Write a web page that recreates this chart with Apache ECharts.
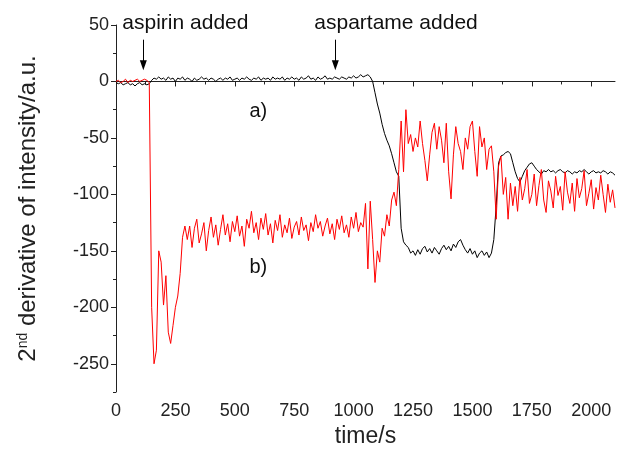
<!DOCTYPE html>
<html>
<head>
<meta charset="utf-8">
<script src="https://cdn.jsdelivr.net/npm/echarts@6/dist/echarts.min.js"></script>
<style>
html,body{margin:0;padding:0;background:#fff;}
#chart{width:618px;height:463px;}
</style>
</head>
<body>
<div id="chart"></div>
<script>
// ---- data (time step 10 s within each segment) ----
const step = 10;
// black curve a)
const blackPre   = [-1,-2,-1,-3,-2,-1,-3,-2,-4,-2,-1,-3,-2,-3,-2];            // 0..140
const blackFlat  = [1,3,2,4,2,3,1,4,2,3, 0,3,2,4,1,3,2,0,3,1, 2,4,2,3,1,3,2,0,2,3,
                    1,3,2,4,1,2,3,1,3,2, 4,2,1,3,2,4,1,3,2,3, 1,4,2,3,2,4,1,3,2,4,
                    2,3,1,4,2,3,5,2,3,1, 4,2,3,5,2,3,2,4,3,2, 4,3,2,4,3,5,3,4,6,4,
                    5,6,4];                                                     // 150..1070
const blackFall  = [0,-10,-20,-28,-38,-46,-52,-57,-64,-72,
                    -80,-84,-130,-142,-145,-147,-152,-150,-154,-149,
                    -153,-148,-146,-151,-148,-152,-147,-150,-153,-148,
                    -145,-149,-146,-150,-144,-147,-142,-140,-145,-149,
                    -152,-148,-153,-150,-156,-152,-150,-154,-151,-156,
                    -152,-140];                                                 // 1080..1590
const blackTail  = [-110,-72,-66,-65,-63,-62,-64,-72,-80,-86,
                    -89,-84,-79,-76,-73,-72,-75,-78,-80,-82,
                    -79,-80,-78,-80,-79,-81,-79,-78,-80,-81,
                    -79,-80,-82,-80,-81,-79,-80,-78,-80,-82,
                    -80,-79,-81,-80,-81,-79,-80,-82,-80,-81,-83];              // 1600..2100
const blackStarts = [0, 150, 1080, 1600];

// red curve b)
const redPre     = [0,1,-1,0,2,-1,1,0,1,2,0,1,2,1,-1];                          // 0..140
const redDrop    = [-200,-250,-238,-150,-160,-198,-172,-222,-232,-216,-200,-190,-170,-138,-128]; // 150..290
const redPlateau = [-140,-128,-147,-130,-122,-143,-135,-125,-150,-132,
                    -120,-138,-127,-145,-131,-118,-136,-126,-142,-124,
                    -133,-119,-137,-128,-146,-122,-130,-115,-134,-125,
                    -140,-121,-131,-117,-136,-126,-143,-123,-132,-118,
                    -138,-127,-134,-121,-139,-129,-124,-136,-120,-132,
                    -127,-141,-125,-133,-118,-130,-124,-137,-128,-121,
                    -135,-126,-140,-122,-131,-119,-134,-127,-138,-120,
                    -130,-116,-133,-125,-129];                                  // 300..1040
const redMix     = [-108,-166,-106,-140,-178,-150,-160,-130,-137,-118,
                    -128,-105,-98,-110,-78,-35,-80,-25,-55,-47,
                    -62,-50,-58,-35,-55,-70,-88,-65,-45,-37,
                    -60,-40,-52,-72,-37,-80,-104,-65,-40,-55,
                    -62,-78,-50,-60,-40,-35,-62,-84,-40,-58,
                    -50,-78,-60,-57,-80];                                       // 1050..1590
const redTail    = [-122,-75,-66,-100,-85,-122,-90,-110,-93,-115,
                    -85,-105,-95,-78,-108,-100,-82,-110,-92,-78,
                    -105,-116,-88,-97,-112,-84,-101,-93,-114,-80,
                    -98,-108,-90,-115,-86,-103,-95,-79,-110,-99,
                    -87,-113,-94,-105,-83,-100,-116,-91,-107,-96,-112];         // 1600..2100
const redStarts = [0, 150, 300, 1050, 1600];

// axis ticks
const xMajorTicks = [0,250,500,750,1000,1250,1500,1750,2000];
const xMinorTicks = [125,375,625,875,1125,1375,1625,1875];
const yMajorTicks = [-250,-200,-150,-100,-50,0,50];
const yMinorTicks = [-275,-225,-175,-125,-75,-25,25];

// annotations (arrow from arrowTop down to arrowTip, in data units)
const events = [{label:'aspirin added', t:115}, {label:'aspartame added', t:923}];
const arrowTop = 37, arrowTip = 10;
const curveLabels = [{label:'a)', t:599, v:-27}, {label:'b)', t:599, v:-165}];

function build(starts, segs){
  const out = [];
  segs.forEach((seg, i) => seg.forEach((v, j) => out.push([starts[i] + j*step, v])));
  return out;
}
const blackData = build(blackStarts, [blackPre, blackFlat, blackFall, blackTail]);
const redData = build(redStarts, [redPre, redDrop, redPlateau, redMix, redTail]);

const FONT = 'Liberation Sans, Arial, sans-serif';
const plain = (v) => String(v);

const chart = echarts.init(document.getElementById('chart'), null, {renderer:'canvas'});
chart.setOption({
  animation:false,
  backgroundColor:'#fff',
  grid: {left:116, right:3, top:25, bottom:71},
  xAxis: [{
    type:'value', min:0, max:2100,
    name:'time/s', nameLocation:'middle', nameGap:27,
    nameTextStyle:{fontSize:23, color:'#222', fontFamily:FONT},
    axisLine:{show:true, lineStyle:{color:'#222', width:1}},
    axisTick:{show:true, length:5, customValues:xMajorTicks, lineStyle:{color:'#222'}},
    axisLabel:{customValues:xMajorTicks, formatter:plain, fontSize:18, color:'#222', fontFamily:FONT, margin:10},
    splitLine:{show:false}
  },{
    type:'value', min:0, max:2100, position:'bottom',
    axisLine:{show:false},
    axisTick:{show:true, length:3, customValues:xMinorTicks, lineStyle:{color:'#222'}},
    axisLabel:{show:false}, splitLine:{show:false}
  }],
  yAxis: [{
    type:'value', min:-275, max:50,
    name:'{a|2}{b|nd}{a| derivative of intensity/a.u.}',
    nameLocation:'middle', nameGap:76,
    nameTextStyle:{color:'#222', fontFamily:FONT,
      rich:{a:{fontSize:24, color:'#222', fontFamily:FONT},
            b:{fontSize:14, color:'#222', fontFamily:FONT, verticalAlign:'top'}}},
    axisLine:{show:true, lineStyle:{color:'#222', width:1}},
    axisTick:{show:true, length:5, customValues:yMajorTicks, lineStyle:{color:'#222'}},
    axisLabel:{customValues:yMajorTicks, formatter:plain, fontSize:18, color:'#222', fontFamily:FONT, margin:7},
    splitLine:{show:false}
  },{
    type:'value', min:-275, max:50, position:'left',
    axisLine:{show:false},
    axisTick:{show:true, length:3, customValues:yMinorTicks, lineStyle:{color:'#222'}},
    axisLabel:{show:false}, splitLine:{show:false}
  }],
  series: [{
    name:'a', type:'line', data:blackData, showSymbol:false, symbol:'none',
    lineStyle:{color:'#000', width:1}, z:2,
    markLine:{
      silent:true, symbol:'none',
      lineStyle:{color:'#000', width:1, type:'solid'},
      label:{show:true, position:'start', distance:6, align:'left', offset:[-21,0],
             fontSize:21, color:'#111', fontFamily:FONT, formatter:(p)=>p.name},
      data: events.map(e => [{name:e.label, coord:[e.t, arrowTop]}, {coord:[e.t, arrowTip + 4]}])
    },
    markPoint:{
      silent:true, symbol:'circle', symbolSize:0,
      label:{show:true, position:'inside', fontSize:20, color:'#111', fontFamily:FONT,
             formatter:(p)=>p.name},
      data: curveLabels.map(c => ({name:c.label, coord:[c.t, c.v]}))
    }
  },{
    name:'b', type:'line', data:redData, showSymbol:false, symbol:'none',
    lineStyle:{color:'#ff0000', width:1}, z:3,
    markPoint:{
      silent:true, symbol:'triangle', symbolSize:[7,10], symbolRotate:180,
      symbolOffset:[0,-5], itemStyle:{color:'#000'}, label:{show:false},
      data: events.map(e => ({coord:[e.t, arrowTip]}))
    }
  }]
});
</script>
</body>
</html>
